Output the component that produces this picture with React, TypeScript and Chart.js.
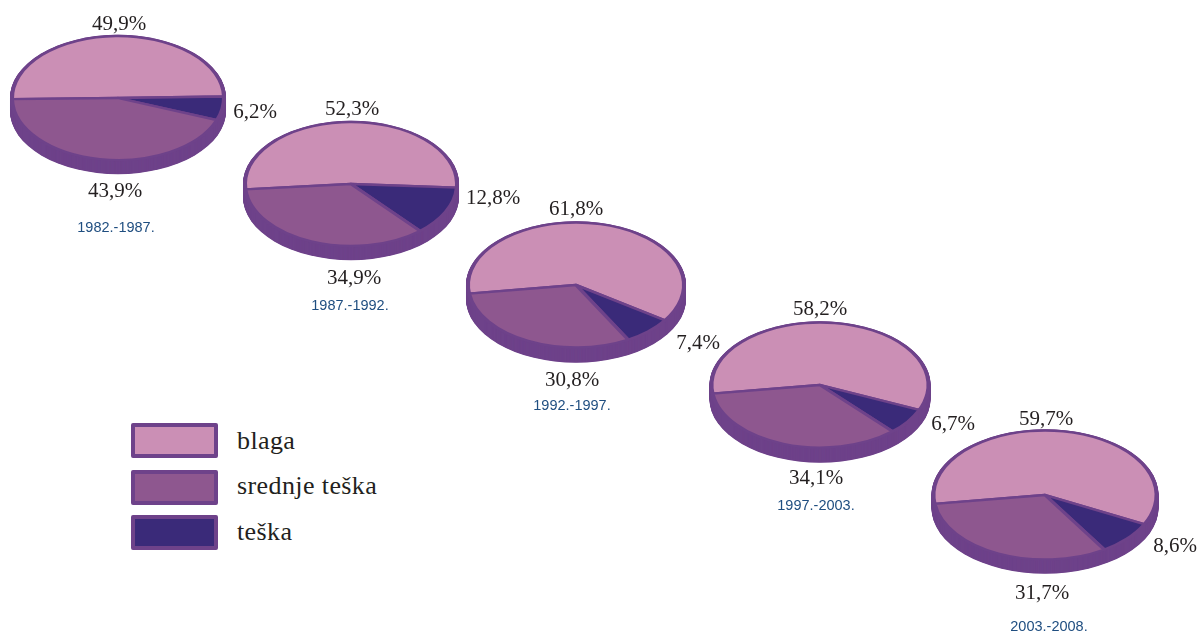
import React, { useEffect, useRef } from "react";
import { Chart, registerables } from "chart.js";

Chart.register(...registerables);

// Severity shares per period, in percent
const periods = ["1982.-1987.", "1987.-1992.", "1992.-1997.", "1997.-2003.", "2003.-2008."];
const blaga = [49.9, 52.3, 61.8, 58.2, 59.7];
const srednjeTeska = [43.9, 34.9, 30.8, 34.1, 31.7];
const teska = [6.2, 12.8, 7.4, 6.7, 8.6];
const legendLabels = ["blaga", "srednje teška", "teška"];

const PINK = "#cb8fb5";
const MAUVE = "#8e578f";
const NAVY = "#3a2a79";
const RIM = "#6e428a";
const TEXT = "#231f20";
const YEAR = "#1f4e80";

// Geometry of each disc: centre, radii, wall height and start angle offset
const discs = [
  { cx: 118, cy: 98, rx: 106, ry: 62, depth: 13, tilt: -1 },
  { cx: 351, cy: 184, rx: 106, ry: 62, depth: 13, tilt: -5 },
  { cx: 575.5, cy: 285, rx: 108, ry: 62.5, depth: 14, tilt: -8 },
  { cx: 820, cy: 385, rx: 108.5, ry: 62.5, depth: 14, tilt: -8 },
  { cx: 1045, cy: 495, rx: 111.5, ry: 64.5, depth: 13, tilt: -8 },
];

// Label anchor points: [top value, small-slice value, lower value, period]
const labelSpots = [
  [[119, 23], [255, 111], [115, 190], [116, 227]],
  [[352, 108], [493, 197], [354, 277], [350, 305]],
  [[576, 208], [698, 342], [572, 379], [572, 405]],
  [[820, 308], [953, 423], [816, 477], [816, 505]],
  [[1046, 418], [1175, 545], [1042, 592], [1049, 626]],
];

const legendRows = [
  { top: 423, color: PINK, textY: 441 },
  { top: 470, color: MAUVE, textY: 486 },
  { top: 515, color: NAVY, textY: 532 },
];

const pct = (v: number) => v.toFixed(1).replace(".", ",") + "%";

// Flattens the pie into an ellipse and paints the side wall beneath it
const discPlugin = {
  id: "disc",
  beforeDatasetsDraw(chart: any, _args: any, opts: any) {
    const arc = chart.getDatasetMeta(0).data[0];
    const { x, y, outerRadius } = arc;
    const k = opts.ry / opts.rx;
    const ctx = chart.ctx;
    ctx.save();
    ctx.translate(x, y);
    ctx.scale(1, k);
    ctx.translate(-x, -y);
    ctx.fillStyle = RIM;
    for (let d = opts.depth; d >= 0; d -= 0.5) {
      ctx.beginPath();
      ctx.arc(x, y + d / k, outerRadius + 2, 0, Math.PI * 2);
      ctx.fill();
    }
  },
  afterDatasetsDraw(chart: any) {
    chart.ctx.restore();
  },
};

function Disc({ index }: { index: number }) {
  const ref = useRef<HTMLCanvasElement>(null);
  const d = discs[index];
  const size = 2 * Math.ceil(d.rx + 10) + 2 * d.depth + 20;

  useEffect(() => {
    const chart = new Chart(ref.current as HTMLCanvasElement, {
      type: "pie",
      data: {
        labels: [legendLabels[0], legendLabels[2], legendLabels[1]],
        datasets: [
          {
            data: [blaga[index], teska[index], srednjeTeska[index]],
            backgroundColor: [PINK, NAVY, MAUVE],
            borderColor: RIM,
            borderWidth: 4,
            borderJoinStyle: "round",
          },
        ],
      },
      options: {
        animation: false,
        responsive: false,
        events: [],
        radius: d.rx,
        rotation: -90 + d.tilt,
        plugins: {
          legend: { display: false },
          tooltip: { enabled: false },
          disc: { rx: d.rx, ry: d.ry, depth: d.depth },
        },
      } as any,
      plugins: [discPlugin],
    });
    return () => chart.destroy();
  }, [index]);

  return (
    <canvas
      ref={ref}
      width={size}
      height={size}
      style={{ position: "absolute", left: d.cx - size / 2, top: d.cy - size / 2, width: size, height: size }}
    />
  );
}

function Label({ x, y, text, kind }: { x: number; y: number; text: string; kind: "value" | "year" }) {
  const isValue = kind === "value";
  return (
    <div
      style={{
        position: "absolute",
        left: x - 60,
        top: y - 15,
        width: 120,
        height: 30,
        lineHeight: "30px",
        textAlign: "center",
        color: isValue ? TEXT : YEAR,
        fontFamily: isValue ? '"Liberation Serif", serif' : '"Liberation Sans", sans-serif',
        fontSize: isValue ? 21 : 14.5,
      }}
    >
      {text}
    </div>
  );
}

export default function App() {
  return (
    <div style={{ position: "absolute", left: 0, top: 0, width: 1200, height: 635, background: "#fff", overflow: "hidden" }}>
      {periods.map((_, i) => (
        <Disc key={i} index={i} />
      ))}
      {periods.map((p, i) => (
        <React.Fragment key={p}>
          <Label x={labelSpots[i][0][0]} y={labelSpots[i][0][1]} text={pct(blaga[i])} kind="value" />
          <Label x={labelSpots[i][1][0]} y={labelSpots[i][1][1]} text={pct(teska[i])} kind="value" />
          <Label x={labelSpots[i][2][0]} y={labelSpots[i][2][1]} text={pct(srednjeTeska[i])} kind="value" />
          <Label x={labelSpots[i][3][0]} y={labelSpots[i][3][1]} text={p} kind="year" />
        </React.Fragment>
      ))}
      {legendRows.map((row, i) => (
        <React.Fragment key={legendLabels[i]}>
          <div
            style={{
              position: "absolute",
              left: 131,
              top: row.top,
              width: 87,
              height: 35,
              boxSizing: "border-box",
              border: `4px solid ${RIM}`,
              borderRadius: 2,
              background: row.color,
            }}
          />
          <div
            style={{
              position: "absolute",
              left: 237,
              top: row.textY - 18,
              height: 36,
              lineHeight: "36px",
              whiteSpace: "nowrap",
              color: TEXT,
              fontFamily: '"Liberation Serif", serif',
              fontSize: 26,
              letterSpacing: 0.4,
            }}
          >
            {legendLabels[i]}
          </div>
        </React.Fragment>
      ))}
    </div>
  );
}
